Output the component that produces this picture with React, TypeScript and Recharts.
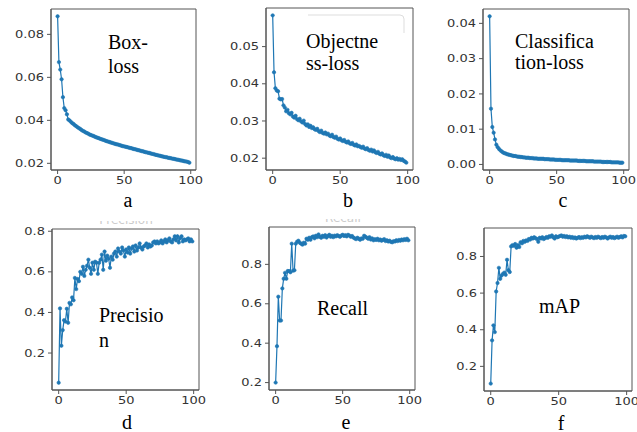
import { LineChart, Line, XAxis, YAxis, ReferenceArea } from "recharts";

const BLUE = "#1f77b4";
const AXIS = "#555";

// values per epoch (0..99)
const boxLoss = [
  0.0884, 0.0671, 0.0636, 0.0591, 0.0508, 0.0457, 0.0447, 0.0428, 0.0404, 0.0399,
  0.0393, 0.0387, 0.0383, 0.0377, 0.0373, 0.0368, 0.0364, 0.036, 0.0355, 0.0351,
  0.0348, 0.0344, 0.0341, 0.0338, 0.0334, 0.0332, 0.0329, 0.0327, 0.0324, 0.0321,
  0.0319, 0.0317, 0.0314, 0.0312, 0.031, 0.0308, 0.0305, 0.0303, 0.0301, 0.0299,
  0.0297, 0.0295, 0.0293, 0.0291, 0.0289, 0.0288, 0.0286, 0.0284, 0.0282, 0.028,
  0.0279, 0.0277, 0.0276, 0.0274, 0.0272, 0.0271, 0.0269, 0.0267, 0.0266, 0.0264,
  0.0262, 0.0261, 0.0259, 0.0257, 0.0256, 0.0254, 0.0252, 0.0251, 0.0249, 0.0248,
  0.0246, 0.0244, 0.0243, 0.0241, 0.0239, 0.0238, 0.0236, 0.0235, 0.0233, 0.0232,
  0.023, 0.0229, 0.0228, 0.0226, 0.0225, 0.0224, 0.0222, 0.0221, 0.022, 0.0218,
  0.0217, 0.0216, 0.0214, 0.0213, 0.0212, 0.021, 0.0209, 0.0208, 0.0206, 0.0203,
];

const objLoss = [
  0.0584, 0.0431, 0.0388, 0.0382, 0.038, 0.036, 0.0358, 0.0359, 0.0342, 0.0336,
  0.0326, 0.033, 0.0321, 0.0318, 0.0322, 0.0312, 0.0309, 0.0314, 0.0305, 0.0302,
  0.0306, 0.0299, 0.0296, 0.0301, 0.0292, 0.0288, 0.0291, 0.0284, 0.0287, 0.0281,
  0.0283, 0.0278, 0.0276, 0.0279, 0.0273, 0.027, 0.0274, 0.0268, 0.0266, 0.0269,
  0.0264, 0.0266, 0.0261, 0.0259, 0.0263, 0.0257, 0.0255, 0.0258, 0.0252, 0.025,
  0.0253, 0.0248, 0.0246, 0.0249, 0.0244, 0.0242, 0.0245, 0.024, 0.0238, 0.0241,
  0.0236, 0.0234, 0.0237, 0.0232, 0.0233, 0.023, 0.0228, 0.0231, 0.0226, 0.0224,
  0.0227, 0.0222, 0.022, 0.0223, 0.0218, 0.0221, 0.0216, 0.0214, 0.0217, 0.0212,
  0.021, 0.0213, 0.0208, 0.0206, 0.0209, 0.0204, 0.0207, 0.0202, 0.02, 0.0203,
  0.0199, 0.0197, 0.02, 0.0196, 0.0198, 0.0195, 0.0197, 0.0193, 0.0191, 0.0188,
];

const clsLoss = [
  0.042, 0.0158, 0.0106, 0.009, 0.0071, 0.0056, 0.0049, 0.0044, 0.004, 0.0037,
  0.0034, 0.0032, 0.0031, 0.0029, 0.0028, 0.0027, 0.0026, 0.0025, 0.0024, 0.0024,
  0.0023, 0.0022, 0.0022, 0.0021, 0.0021, 0.002, 0.002, 0.0019, 0.0019, 0.0019,
  0.0018, 0.0018, 0.0018, 0.0017, 0.0017, 0.0017, 0.0016, 0.0016, 0.0016, 0.0016,
  0.0016, 0.0015, 0.0015, 0.0015, 0.0015, 0.0014, 0.0014, 0.0014, 0.0014, 0.0013,
  0.0013, 0.0013, 0.0013, 0.0013, 0.0012, 0.0012, 0.0012, 0.0012, 0.0012, 0.0012,
  0.0011, 0.0011, 0.0011, 0.0011, 0.0011, 0.0011, 0.001, 0.001, 0.001, 0.001,
  0.001, 0.001, 0.0009, 0.0009, 0.0009, 0.0009, 0.0009, 0.0009, 0.0008, 0.0008,
  0.0008, 0.0008, 0.0008, 0.0008, 0.0007, 0.0007, 0.0007, 0.0007, 0.0007, 0.0007,
  0.0007, 0.0006, 0.0006, 0.0006, 0.0006, 0.0006, 0.0006, 0.0005, 0.0005, 0.0005,
];

const precision = [
  0.054, 0.42, 0.236, 0.313, 0.362, 0.355, 0.418, 0.349, 0.447, 0.44,
  0.474, 0.46, 0.57, 0.515, 0.565, 0.554, 0.6, 0.59, 0.625, 0.58,
  0.61, 0.63, 0.66, 0.62, 0.59, 0.645, 0.61, 0.65, 0.645, 0.59,
  0.645, 0.66, 0.685, 0.61, 0.7, 0.655, 0.68, 0.665, 0.62, 0.675,
  0.66, 0.69, 0.7, 0.675, 0.715, 0.7, 0.69, 0.72, 0.705, 0.675,
  0.71, 0.695, 0.72, 0.69, 0.715, 0.725, 0.7, 0.73, 0.705, 0.72,
  0.74, 0.72, 0.71, 0.725, 0.73, 0.74, 0.72, 0.735, 0.725, 0.73,
  0.745, 0.75, 0.74, 0.75, 0.74, 0.745, 0.755, 0.74, 0.75, 0.76,
  0.745, 0.755, 0.765, 0.75, 0.745, 0.76, 0.775, 0.755, 0.775, 0.745,
  0.765, 0.775, 0.75, 0.76, 0.755, 0.76, 0.765, 0.75, 0.76, 0.75,
];

const recall = [
  0.2, 0.385, 0.636, 0.515, 0.515, 0.678, 0.727, 0.757, 0.727, 0.766,
  0.766, 0.76, 0.905, 0.768, 0.77, 0.905, 0.915, 0.92, 0.91, 0.905,
  0.9, 0.91, 0.905, 0.93, 0.925, 0.935, 0.925, 0.938, 0.942, 0.932,
  0.945, 0.938, 0.952, 0.94, 0.935, 0.945, 0.94, 0.948, 0.936, 0.944,
  0.95, 0.94, 0.945, 0.938, 0.946, 0.942, 0.948, 0.944, 0.94, 0.946,
  0.95, 0.944, 0.948, 0.942, 0.95, 0.946, 0.94, 0.944, 0.936, 0.932,
  0.928, 0.935, 0.93, 0.925, 0.932, 0.93, 0.945, 0.94, 0.935, 0.93,
  0.938, 0.926, 0.932, 0.922, 0.928, 0.924, 0.93, 0.922, 0.926, 0.92,
  0.924, 0.928, 0.918, 0.922, 0.916, 0.92, 0.914, 0.912, 0.918, 0.916,
  0.922, 0.918, 0.924, 0.92, 0.926, 0.922, 0.928, 0.924, 0.93, 0.922,
];

const mAP = [
  0.106, 0.342, 0.424, 0.387, 0.609, 0.655, 0.738, 0.678, 0.696, 0.705,
  0.712, 0.7, 0.782, 0.725, 0.715, 0.855, 0.862, 0.858, 0.868, 0.848,
  0.862, 0.852, 0.878, 0.872, 0.885, 0.88, 0.888, 0.885, 0.895, 0.892,
  0.902, 0.898, 0.905, 0.9, 0.895, 0.88, 0.902, 0.898, 0.905, 0.895,
  0.9, 0.906, 0.902, 0.91, 0.908, 0.915, 0.905, 0.898, 0.91, 0.905,
  0.908, 0.912, 0.915, 0.908, 0.912, 0.906, 0.91, 0.904, 0.908, 0.902,
  0.906, 0.9, 0.904, 0.898, 0.902, 0.906, 0.9, 0.905, 0.902, 0.908,
  0.904, 0.91, 0.906, 0.902, 0.908, 0.904, 0.9, 0.906, 0.902, 0.908,
  0.904, 0.9, 0.906, 0.902, 0.908, 0.904, 0.898, 0.904, 0.908, 0.902,
  0.906, 0.9, 0.904, 0.908, 0.902, 0.906, 0.91, 0.904, 0.912, 0.91,
];

const xTicks = [0, 50, 100];
const ticksA = [0.02, 0.04, 0.06, 0.08];
const ticksB = [0.02, 0.03, 0.04, 0.05];
const ticksC = [0, 0.01, 0.02, 0.03, 0.04];
const ticksDEF = [0.2, 0.4, 0.6, 0.8];

// matplotlib-like 5% margins
const X_DOMAIN = [-4.95, 103.95];
function padDomain(vals: number[]) {
  const lo = Math.min(...vals);
  const hi = Math.max(...vals);
  const m = (hi - lo) * 0.05;
  return [lo - m, hi + m];
}

const PADL = 55, PADT = 10, PADR = 10, PADB = 30;
const SX = 1.3; // the figure is stretched sideways

function YTick(props: any) {
  const { x, y, payload, digits } = props;
  return (
    <g transform={`translate(${x},${y})`}>
      <text transform={`scale(${SX},1)`} textAnchor="end" dy="0.36em" fontSize={10} fill="#333" fontFamily="DejaVu Sans">
        {Number(payload.value).toFixed(digits)}
      </text>
    </g>
  );
}

function XTick(props: any) {
  const { x, y, payload } = props;
  return (
    <g transform={`translate(${x},${y})`}>
      <text transform={`scale(${SX},1)`} textAnchor="middle" dy="0.71em" fontSize={10} fill="#333" fontFamily="DejaVu Sans">
        {payload.value}
      </text>
    </g>
  );
}

type Frame = { l: number; t: number; r: number; b: number };

function Panel({ values, yTicks, digits, frame }: { values: number[]; yTicks: number[]; digits: number; frame: Frame }) {
  const rows = values.map((v, i) => ({ epoch: i, v }));
  const yd = padDomain(values);
  return (
    <div style={{ position: "absolute", left: frame.l - PADL, top: frame.t - PADT }}>
      <LineChart
        width={frame.r - frame.l + PADL + PADR}
        height={frame.b - frame.t + PADT + PADB}
        data={rows}
        margin={{ top: PADT, right: PADR, left: 0, bottom: 0 }}
      >
        <XAxis
          dataKey="epoch"
          type="number"
          domain={X_DOMAIN}
          ticks={xTicks}
          height={PADB}
          tickSize={4}
          tickMargin={3}
          stroke={AXIS}
          tick={(p: any) => <XTick {...p} />}
          allowDataOverflow
        />
        <YAxis
          type="number"
          domain={yd}
          ticks={yTicks}
          width={PADL}
          tickSize={4}
          tickMargin={3}
          stroke={AXIS}
          tick={(p: any) => <YTick {...p} digits={digits} />}
          allowDataOverflow
        />
        <ReferenceArea
          x1={X_DOMAIN[0]}
          x2={X_DOMAIN[1]}
          y1={yd[0]}
          y2={yd[1]}
          fill="none"
          stroke={AXIS}
          strokeWidth={1}
          ifOverflow="visible"
        />
        <Line
          dataKey="v"
          stroke={BLUE}
          strokeWidth={1.2}
          dot={{ r: 1.7, fill: BLUE, stroke: BLUE, strokeWidth: 0.6 }}
          isAnimationActive={false}
        />
      </LineChart>
    </div>
  );
}

const serif = "Liberation Serif, Times New Roman, serif";

export default function App() {
  return (
    <div style={{ position: "absolute", left: 0, top: 0, width: 637, height: 432, background: "#fff", overflow: "hidden" }}>
      <Panel values={boxLoss} yTicks={ticksA} digits={2} frame={{ l: 51, t: 9, r: 196, b: 170 }} />
      <Panel values={objLoss} yTicks={ticksB} digits={2} frame={{ l: 266, t: 8, r: 413, b: 170 }} />
      <Panel values={clsLoss} yTicks={ticksC} digits={2} frame={{ l: 483, t: 9, r: 629, b: 170 }} />
      <Panel values={precision} yTicks={ticksDEF} digits={1} frame={{ l: 52, t: 229, r: 199, b: 390 }} />
      <Panel values={recall} yTicks={ticksDEF} digits={1} frame={{ l: 269, t: 227, r: 415, b: 390 }} />
      <Panel values={mAP} yTicks={ticksDEF} digits={1} frame={{ l: 484, t: 228, r: 632, b: 391 }} />

      <svg width={637} height={432} style={{ position: "absolute", left: 0, top: 0, pointerEvents: "none" }}>
        <defs>
          <clipPath id="cutD"><rect x={80} y={221} width={100} height={3} /></clipPath>
          <clipPath id="cutE"><rect x={310} y={219} width={70} height={3} /></clipPath>
        </defs>
        {/* leftover legend frame in panel b */}
        <path d="M308,15 H400 Q404,15 404,19 V33" fill="none" stroke="#ddd" strokeWidth={1} />
        {/* cut-off titles, only their lower edge shows */}
        <text x={126} y={224} textAnchor="middle" fontSize={12} fill="#ccc" fontFamily="DejaVu Sans" clipPath="url(#cutD)">Precision</text>
        <text x={343} y={222} textAnchor="middle" fontSize={12} fill="#ccc" fontFamily="DejaVu Sans" clipPath="url(#cutE)">Recall</text>

        <g fontFamily={serif} fontSize={20} fill="#000">
          <text x={108} y={49}>Box-</text>
          <text x={108} y={73}>loss</text>
          <text x={306} y={48}>Objectne</text>
          <text x={306} y={70}>ss-loss</text>
          <text x={515} y={48}>Classifica</text>
          <text x={515} y={69}>tion-loss</text>
          <text x={99} y={322}>Precisio</text>
          <text x={99} y={347}>n</text>
          <text x={317} y={315}>Recall</text>
          <text x={539} y={313}>mAP</text>
        </g>
        <g fontFamily={serif} fontSize={20} fill="#000" textAnchor="middle">
          <text x={128} y={207}>a</text>
          <text x={348} y={207}>b</text>
          <text x={563} y={207}>c</text>
          <text x={127} y={429}>d</text>
          <text x={346} y={429}>e</text>
          <text x={561} y={430}>f</text>
        </g>
      </svg>
    </div>
  );
}
